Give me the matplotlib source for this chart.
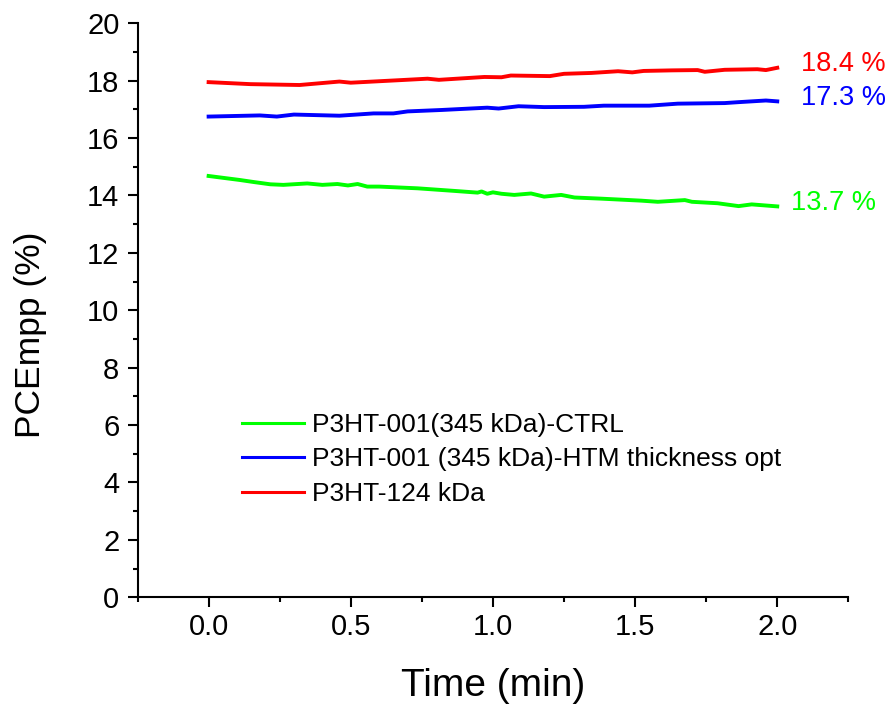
import numpy as np
import matplotlib
matplotlib.use("Agg")
import matplotlib.pyplot as plt
from matplotlib.ticker import MultipleLocator

plt.rcParams['font.family'] = ['Liberation Sans', 'DejaVu Sans']

# valores (tempo em min, PCE em %)
t_ctrl = [0.0, 0.11, 0.158, 0.217, 0.263, 0.347, 0.40, 0.453, 0.49, 0.524, 0.558, 0.60, 0.735,
          0.864, 0.946, 0.96, 0.98, 1.0, 1.03, 1.075, 1.134, 1.18, 1.24, 1.287, 1.38,
          1.522, 1.58, 1.675, 1.70, 1.79, 1.864, 1.91, 2.0]
pce_ctrl = [14.68, 14.54, 14.47, 14.39, 14.37, 14.42, 14.37, 14.40, 14.35, 14.40, 14.31, 14.31, 14.25,
            14.16, 14.10, 14.14, 14.06, 14.11, 14.06, 14.02, 14.07, 13.96, 14.02, 13.93, 13.89,
            13.82, 13.78, 13.84, 13.78, 13.73, 13.63, 13.69, 13.62]

t_htm = [0.0, 0.18, 0.24, 0.30, 0.46, 0.58, 0.65, 0.70, 0.82, 0.98, 1.02, 1.09, 1.18,
         1.32, 1.39, 1.55, 1.65, 1.815, 1.86, 1.96, 2.0]
pce_htm = [16.75, 16.79, 16.75, 16.82, 16.78, 16.86, 16.86, 16.93, 16.98, 17.06, 17.03, 17.11, 17.08,
           17.09, 17.13, 17.13, 17.20, 17.22, 17.25, 17.31, 17.28]

t_124 = [0.0, 0.147, 0.32, 0.46, 0.50, 0.675, 0.77, 0.81, 0.97, 1.03, 1.063, 1.2, 1.25,
         1.346, 1.44, 1.49, 1.53, 1.63, 1.72, 1.745, 1.815, 1.93, 1.96, 2.0]
pce_124 = [17.95, 17.88, 17.85, 17.97, 17.93, 18.02, 18.07, 18.03, 18.13, 18.12, 18.18, 18.16, 18.24,
           18.27, 18.33, 18.29, 18.34, 18.36, 18.37, 18.31, 18.38, 18.40, 18.37, 18.45]

labels = ["P3HT-001(345 kDa)-CTRL", "P3HT-001 (345 kDa)-HTM thickness opt", "P3HT-124 kDa"]
cores = ["#00ff00", "#0000ff", "#ff0000"]
finais = ["13.7 %", "17.3 %", "18.4 %"]
pos_final = [(2.048, 13.48), (2.083, 17.14), (2.083, 18.33)]

fig = plt.figure(figsize=(8.93, 7.06), dpi=100)
ax = fig.add_axes([0.154, 0.154, 0.796, 0.813])

series = [(t_ctrl, pce_ctrl), (t_htm, pce_htm), (t_124, pce_124)]
for (t, p), lab, c in zip(series, labels, cores):
    ax.plot(t, p, color=c, lw=2.8, label=lab)

for txt, (x, y), c in zip(finais, pos_final, cores):
    ax.text(x, y, txt, color=c, fontsize=19.5, ha='left', va='baseline')

ax.set_xlim(-0.25, 2.25)
ax.set_ylim(0, 20)
ax.xaxis.set_major_locator(MultipleLocator(0.5))
ax.xaxis.set_minor_locator(MultipleLocator(0.25))
ax.yaxis.set_major_locator(MultipleLocator(2))
ax.yaxis.set_minor_locator(MultipleLocator(1))
ax.xaxis.set_major_formatter(plt.FormatStrFormatter('%.1f'))

ax.spines['top'].set_visible(False)
ax.spines['right'].set_visible(False)
for s in ['left', 'bottom']:
    ax.spines[s].set_linewidth(1.5)
ax.tick_params(which='major', direction='out', length=7, width=1.5, labelsize=21)
ax.tick_params(which='minor', direction='out', length=3.6, width=1.5)
ax.tick_params(axis='x', pad=4)
ax.tick_params(axis='y', pad=6)

ax.set_xlabel('Time (min)', fontsize=28, labelpad=20)
ax.set_ylabel('PCEmpp (%)', fontsize=25.5)
ax.yaxis.set_label_coords(-0.127, 0.458)

leg = ax.legend(loc='upper left', bbox_to_anchor=(0.1137, 0.3626), frameon=False, fontsize=19,
                handlelength=2.35, labelspacing=0.4, handletextpad=0.3)
for ln in leg.get_lines():
    ln.set_linewidth(2.2)

fig.savefig('out.png', dpi=100)
